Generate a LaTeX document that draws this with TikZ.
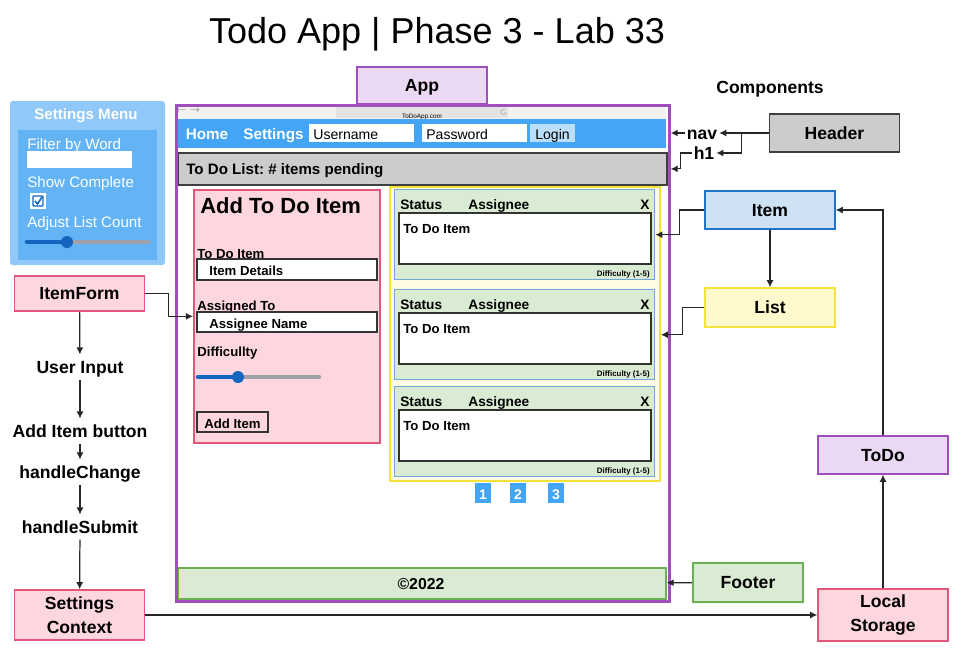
\documentclass[tikz,border=0pt]{standalone}
\usepackage{fontspec}
\setmainfont{Liberation Sans}
\usetikzlibrary{arrows.meta}
\frenchspacing

\definecolor{appPurple}{HTML}{A04DBE}
\definecolor{appFill}{HTML}{EBD8F2}
\definecolor{navBlue}{HTML}{42A5F5}
\definecolor{loginBlue}{HTML}{BBDEFB}
\definecolor{pinkFill}{HTML}{FDD6DF}
\definecolor{pinkLine}{HTML}{E4557C}
\definecolor{greenFill}{HTML}{DAEBD4}
\definecolor{greenLine}{HTML}{6BB154}
\definecolor{blueFill}{HTML}{CFE2F3}
\definecolor{blueLine}{HTML}{1F74C9}
\definecolor{yellowFill}{HTML}{FFF9CE}
\definecolor{yellowLine}{HTML}{F2E23A}
\definecolor{grayFill}{HTML}{CCCCCC}
\definecolor{cardLine}{HTML}{6FA8DC}
\definecolor{menuOuter}{HTML}{90C9F9}
\definecolor{menuInner}{HTML}{63B3F5}
\definecolor{sliderBlue}{HTML}{1565C0}
\definecolor{sliderGray}{HTML}{9EA2A8}

\begin{document}
\begin{tikzpicture}[x=0.02cm, y=-0.02cm,
    oneline/.style={text height=0.72em, text depth=0pt},
    compbox/.style={draw, line width=0.9pt, minimum width=2.6cm, minimum height=0.76cm,
        align=center, font=\fontsize{10}{13.5}\selectfont\bfseries},
    comp/.style={compbox, oneline},
    flowtext/.style={oneline, font=\fontsize{10}{12}\selectfont\bfseries},
    small/.style={oneline, anchor=west, inner sep=0pt, font=\fontsize{7.5}{9}\selectfont\bfseries},
    cardtext/.style={oneline, anchor=west, inner sep=0pt, font=\fontsize{7.8}{9}\selectfont\bfseries},
    tiny/.style={oneline, inner sep=0pt, font=\fontsize{4.5}{5}\selectfont\bfseries},
    menutext/.style={oneline, white, anchor=west, inner sep=0pt, font=\fontsize{8.6}{10}\selectfont},
    link/.style={-{Latex[length=4pt,width=4pt]}, line width=0.7pt, black!85}]
    \useasboundingbox (0,0) rectangle (957,656);

    % Title
    \node[oneline, font=\fontsize{20.5}{25}\selectfont] (title) at (437,37) {Todo App | Phase 3 - Lab 33};
    \node[comp, fill=appFill, draw=appPurple, minimum height=0.74cm] (app) at (422,85.5) {App};
    \node[oneline, font=\fontsize{10}{12}\selectfont\bfseries] (comps) at (770,87) {Components};

    % Settings menu
    \fill[menuOuter, rounded corners=1.5pt] (10,101) rectangle (165,265);
    \fill[menuInner] (18,130) rectangle (157,260);
    \node[oneline, white, font=\fontsize{8.6}{10}\selectfont\bfseries] (menutitle) at (86,113) {Settings Menu};
    \node[menutext] (filter) at (27,143) {Filter by Word};
    \fill[white] (27,151) rectangle (132,168);
    \node[menutext] (showc) at (27,181) {Show Complete};
    \fill[white] (30,193) rectangle (46,209);
    \draw[sliderBlue, line width=0.8pt, rounded corners=0.5pt] (33,196) rectangle (43,206);
    \draw[sliderBlue, line width=0.9pt] (35,201) -- (37.5,204) -- (42,197);
    \node[menutext] (adjust) at (27,221) {Adjust List Count};
    \draw[sliderGray, line width=2.6pt, line cap=round] (67,242) -- (148,242);
    \draw[sliderBlue, line width=2.6pt, line cap=round] (27,242) -- (67,242);
    \fill[sliderBlue] (67,242) circle (6);

    % Browser bar
    \fill[gray!10] (177,105) rectangle (666,119);
    \node[gray, inner sep=0pt, font=\fontsize{4}{5}\selectfont] (backfwd) at (188,111) {$\leftarrow\ \rightarrow$};
    \fill[gray!22] (336,107) rectangle (508,118);
    \node[tiny, font=\fontsize{3.6}{4}\selectfont] (url) at (422,112.5) {ToDoApp.com};
    \draw[gray!70, line width=0.35pt] (506,112) arc (0:300:2.5);

    % Nav
    \fill[navBlue] (177,119) rectangle (666,148);
    \node[oneline, white, font=\fontsize{8.7}{11}\selectfont\bfseries] (home) at (207,133) {Home};
    \node[oneline, white, font=\fontsize{8.7}{11}\selectfont\bfseries] (settings) at (273.5,133) {Settings};
    \fill[white] (309,124) rectangle (414,142);
    \node[oneline, anchor=west, inner sep=0pt, font=\fontsize{8}{10}\selectfont] (user) at (313,133) {Username};
    \fill[white] (422,124) rectangle (527,142);
    \node[oneline, anchor=west, inner sep=0pt, font=\fontsize{8}{10}\selectfont] (pass) at (426,133) {Password};
    \node[oneline, fill=loginBlue, minimum width=0.9cm, minimum height=0.36cm, inner sep=0pt,
        font=\fontsize{8}{10}\selectfont] (login) at (552.5,133) {Login};

    % h1
    \node[draw=black!75, fill=grayFill, line width=1pt, anchor=north west,
        minimum width=9.78cm, minimum height=0.64cm] (h1bar) at (177,152) {};
    \node[oneline, anchor=west, inner sep=0pt, font=\fontsize{8.6}{10}\selectfont\bfseries] (h1text) at (186,168) {To Do List: \# items pending};

    % Form
    \node[draw=pinkLine, fill=pinkFill, line width=1pt, anchor=north west,
        minimum width=3.72cm, minimum height=5.06cm] (form) at (193,189) {};
    \node[oneline, anchor=west, inner sep=0pt, font=\fontsize{12.5}{15}\selectfont\bfseries] (formtitle) at (200,207) {Add To Do Item};
    \node[small] (lblitem) at (197,252) {To Do Item};
    \filldraw[fill=white, draw=black!80, line width=0.9pt] (197,259) rectangle (377,280);
    \node[small] (details) at (209,269.5) {Item Details};
    \node[small] (lblassign) at (197,304) {Assigned To};
    \filldraw[fill=white, draw=black!80, line width=0.9pt] (197,312) rectangle (377,332);
    \node[small] (assignee) at (209,322) {Assignee Name};
    \node[small] (lbldiff) at (197,350) {Difficullty};
    \draw[sliderGray, line width=2.6pt, line cap=round] (238,377) -- (319,377);
    \draw[sliderBlue, line width=2.6pt, line cap=round] (198,377) -- (238,377);
    \fill[sliderBlue] (238,377) circle (6);
    \node[oneline, draw=black!80, line width=0.9pt, minimum width=1.42cm, minimum height=0.4cm,
        inner sep=0pt, font=\fontsize{7.5}{9}\selectfont\bfseries] (additem) at (232.5,422) {Add Item};

    % List of items
    \node[draw=yellowLine, fill=yellowFill!60, line width=1.1pt, anchor=north west,
        minimum width=5.4cm, minimum height=5.88cm] (listbox) at (389,186) {};
    \foreach \i/\y in {1/189, 2/289, 3/386} {
        \node[draw=cardLine, fill=greenFill, line width=0.8pt, anchor=north west,
            minimum width=5.2cm, minimum height=1.8cm] (card\i) at (394,\y) {};
        \node[cardtext] (status\i) at (400,\y+14) {Status};
        \node[cardtext] (assign\i) at (468,\y+14) {Assignee};
        \node[cardtext, anchor=center] (close\i) at (645,\y+14) {X};
        \filldraw[fill=white, draw=black!80, line width=0.9pt] (399,\y+24) rectangle (651,\y+75);
        \node[small] (todo\i) at (403,\y+38) {To Do Item};
        \node[tiny, anchor=east] (diff\i) at (650,\y+81) {Difficulty (1-5)};
    }
    \foreach \p/\x in {1/483, 2/518, 3/556}
        \node[oneline, fill=navBlue, text=white, minimum width=0.32cm, minimum height=0.4cm, inner sep=0pt,
            font=\fontsize{8}{9}\selectfont\bfseries] (page\p) at (\x,493) {\p};

    % Footer bar
    \node[draw=greenLine, fill=greenFill, line width=1pt, anchor=north west,
        minimum width=9.76cm, minimum height=0.62cm] (footerbar) at (177,567) {};
    \node[oneline, font=\fontsize{9}{11}\selectfont\bfseries] (copy) at (421,583) {©2022};

    % App frame
    \node[draw=appPurple, line width=1.6pt, anchor=north west,
        minimum width=9.86cm, minimum height=9.92cm] (frame) at (175,104) {};

    % Components
    \node[comp, fill=grayFill, draw=black!75] (header) at (834.5,133) {Header};
    \node[flowtext, inner sep=1pt] (nav) at (702,133) {nav};
    \node[flowtext, inner sep=1pt] (h1) at (704,153) {h1};
    \node[comp, fill=blueFill, draw=blueLine] (item) at (770,210) {Item};
    \node[comp, fill=yellowFill, draw=yellowLine, minimum height=0.78cm] (list) at (770,307.5) {List};
    \node[comp, fill=appFill, draw=appPurple] (todo) at (883,455) {ToDo};
    \node[compbox, fill=pinkFill, draw=pinkLine, minimum height=1cm] (storage) at (883,615) {Local\\Storage};
    \node[comp, fill=greenFill, draw=greenLine, minimum width=2.2cm, minimum height=0.78cm] (footer) at (748,582.5) {Footer};
    \node[comp, fill=pinkFill, draw=pinkLine, minimum height=0.7cm] (itemform) at (79.5,293.5) {ItemForm};
    \node[compbox, fill=pinkFill, draw=pinkLine, minimum height=1cm] (context) at (79.5,615) {Settings\\Context};

    % Flow
    \node[flowtext] (input) at (80,367) {User Input};
    \node[flowtext] (button) at (80,431) {Add Item button};
    \node[flowtext] (change) at (80,472) {handleChange};
    \node[flowtext] (submit) at (80,527) {handleSubmit};

    % Connectors
    \draw[link] (header.west) -- ++(-27,0) coordinate (hsplit) -- (nav.east);
    \draw[link] (hsplit) |- (h1.east);
    \draw[link] (nav.west) -- (nav -| frame.east);
    \draw[link] (h1.west) -- ++(-11,0) |- (frame.east |- h1bar);
    \draw[link] (item.west) -- ++(-25,0) |- (card1.east);
    \draw[link] (item) -- (list);
    \draw[link] (list.west) -- ++(-22,0) |- (card2 -| listbox.east);
    \draw[link] (todo.north) |- (item.east);
    \draw[link] (storage) -- (todo);
    \draw[link] (footer) -- (footerbar);
    \draw[link] (context) -- (storage);
    \draw[link] (itemform.east) -- ++(23,0) |- (form.west);
    \draw[link] (itemform) -- (input);
    \draw[link] (input) -- (button);
    \draw[link] (button) -- (change);
    \draw[link] (change) -- (submit);
    \draw[link] (submit) -- (context);
\end{tikzpicture}
\end{document}
